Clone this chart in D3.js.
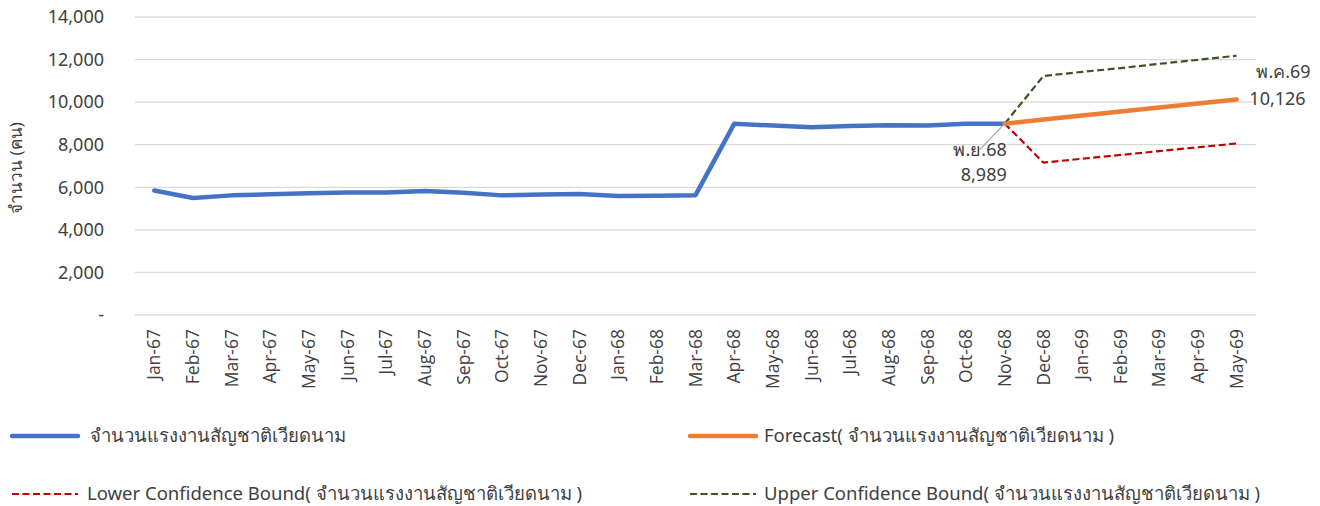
<!DOCTYPE html>
<html>
<head>
<meta charset="utf-8">
<script src="https://cdn.jsdelivr.net/npm/d3@7"></script>
<style>
  html, body { margin: 0; padding: 0; background: #fff; }
  svg { display: block; font-family: "Noto Sans", "Open Sans", sans-serif; }
</style>
</head>
<body>
<div id="chart"></div>
<script>
// months Jan-67 .. May-69 (Thai Buddhist year, short)
const months = ['Jan-67','Feb-67','Mar-67','Apr-67','May-67','Jun-67','Jul-67','Aug-67','Sep-67','Oct-67','Nov-67','Dec-67',
  'Jan-68','Feb-68','Mar-68','Apr-68','May-68','Jun-68','Jul-68','Aug-68','Sep-68','Oct-68','Nov-68','Dec-68',
  'Jan-69','Feb-69','Mar-69','Apr-69','May-69'];

// actual workers, Jan-67 .. Nov-68
const actual = [5850, 5500, 5620, 5670, 5720, 5750, 5750, 5830, 5740, 5620, 5660, 5680,
  5590, 5600, 5630, 8980, 8900, 8820, 8880, 8920, 8900, 8990, 8989];

// forecast section, Nov-68 .. May-69
const fcMonths = ['Nov-68','Dec-68','Jan-69','Feb-69','Mar-69','Apr-69','May-69'];
const forecast = [8989, 9180, 9370, 9560, 9750, 9940, 10126];
const lowerBound = [8989, 7160, 7340, 7520, 7700, 7880, 8060];
const upperBound = [8989, 11230, 11420, 11600, 11800, 11990, 12180];

const yTicks = [0, 2000, 4000, 6000, 8000, 10000, 12000, 14000];

const W = 1320, H = 506;
const margin = { top: 17, right: 64, left: 135, bottom: 191 };
const iw = W - margin.left - margin.right, ih = H - margin.top - margin.bottom;
const textCol = '#404040';

const svg = d3.select('#chart').append('svg').attr('width', W).attr('height', H);
const g = svg.append('g').attr('transform', `translate(${margin.left},${margin.top})`);

const x = d3.scaleBand().domain(months).range([0, iw]);
const cx = m => x(m) + x.bandwidth() / 2;
const y = d3.scaleLinear().domain([0, 14000]).range([ih, 0]);

// gridlines
g.selectAll('.grid').data(yTicks).join('line')
  .attr('x1', 0).attr('x2', iw).attr('y1', d => y(d)).attr('y2', d => y(d))
  .attr('stroke', '#d9d9d9').attr('stroke-width', 1.3);

// y axis
const fmt = d3.format(',');
const yAx = g.append('g').call(d3.axisLeft(y).tickValues(yTicks).tickSize(0).tickPadding(31)
  .tickFormat(d => d === 0 ? '-' : fmt(d)));
yAx.select('.domain').remove();
yAx.selectAll('text').attr('fill', textCol).attr('font-size', 18).attr('font-family', '"Noto Sans", sans-serif');

// x axis
const xAx = g.append('g').attr('transform', `translate(0,${ih})`).call(d3.axisBottom(x).tickSize(0));
xAx.select('.domain').remove();
xAx.selectAll('text').attr('fill', textCol).attr('font-size', 17.5).attr('font-family', '"Open Sans", sans-serif')
  .attr('transform', 'rotate(-90)').attr('text-anchor', 'end').attr('dx', '-14').attr('dy', '0.35em').attr('y', 0);

// y title
svg.append('text').attr('transform', `translate(22,${margin.top + ih / 2 + 2}) rotate(-90)`)
  .attr('text-anchor', 'middle').attr('fill', textCol).attr('font-size', 17).text('จำนวน (คน)');

const line = d3.line().x(d => cx(d[0])).y(d => y(d[1]));

const series = [
  { keys: months.slice(0, actual.length), vals: actual, color: '#4472c4', w: 4.5, dash: null },
  { keys: fcMonths, vals: lowerBound, color: '#c00000', w: 2.2, dash: '7,3.5' },
  { keys: fcMonths, vals: upperBound, color: '#375623', w: 2.2, dash: '7,3.5' },
  { keys: fcMonths, vals: forecast, color: '#ed7d31', w: 4.5, dash: null }
];
series.forEach(s => {
  g.append('path').datum(s.keys.map((k, i) => [k, s.vals[i]]))
    .attr('d', line).attr('fill', 'none').attr('stroke', s.color).attr('stroke-width', s.w)
    .attr('stroke-dasharray', s.dash).attr('stroke-linecap', s.dash ? 'butt' : 'round').attr('stroke-linejoin', 'round');
});

// annotations
const nov = 'Nov-68', may = 'May-69';
const px = cx(nov), py = y(actual[actual.length - 1]);
g.append('line').attr('x1', px).attr('y1', py).attr('x2', px - 25).attr('y2', py + 26)
  .attr('stroke', '#a6a6a6').attr('stroke-width', 1.3);
g.append('text').attr('x', px + 2).attr('y', py + 32).attr('text-anchor', 'end')
  .attr('fill', textCol).attr('font-size', 18).text('พ.ย.68');
g.append('text').attr('x', px + 2).attr('y', py + 57).attr('text-anchor', 'end')
  .attr('fill', textCol).attr('font-size', 18).text(fmt(actual[actual.length - 1]));

const mx = cx(may), my = y(forecast[forecast.length - 1]);
g.append('text').attr('x', mx + 74).attr('y', my - 21).attr('text-anchor', 'end')
  .attr('fill', textCol).attr('font-size', 18).text('พ.ค.69');
g.append('text').attr('x', mx + 69).attr('y', my + 6).attr('text-anchor', 'end')
  .attr('fill', textCol).attr('font-size', 18).text(fmt(forecast[forecast.length - 1]));

// legend
const legend = [
  { label: 'จำนวนแรงงานสัญชาติเวียดนาม', color: '#4472c4', w: 4.5, dash: null, x: 12, y: 436, tx: 90 },
  { label: 'Forecast( จำนวนแรงงานสัญชาติเวียดนาม )', color: '#ed7d31', w: 4.5, dash: null, x: 690, y: 436, tx: 764 },
  { label: 'Lower Confidence Bound( จำนวนแรงงานสัญชาติเวียดนาม )', color: '#c00000', w: 2.2, dash: '7,3.5', x: 12, y: 494, tx: 87 },
  { label: 'Upper Confidence Bound( จำนวนแรงงานสัญชาติเวียดนาม )', color: '#375623', w: 2.2, dash: '7,3.5', x: 690, y: 494, tx: 764 }
];
legend.forEach(l => {
  svg.append('line').attr('x1', l.x).attr('x2', l.x + 66).attr('y1', l.y).attr('y2', l.y)
    .attr('stroke', l.color).attr('stroke-width', l.w).attr('stroke-dasharray', l.dash)
    .attr('stroke-linecap', l.dash ? 'butt' : 'round');
  svg.append('text').attr('x', l.tx).attr('y', l.y).attr('dy', '0.35em')
    .attr('fill', textCol).attr('font-size', 18.5).text(l.label);
});
</script>
</body>
</html>
